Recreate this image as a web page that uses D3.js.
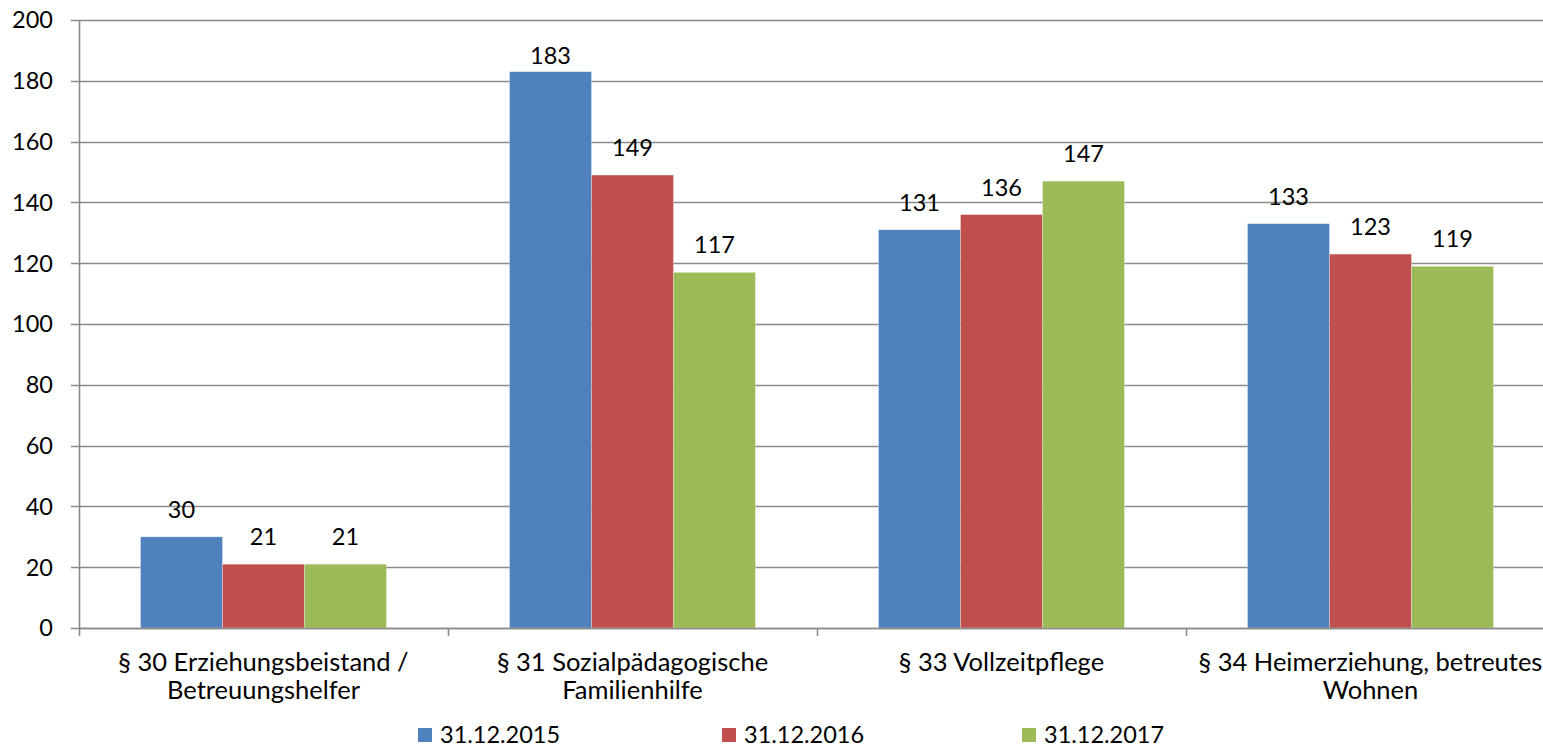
<!DOCTYPE html>
<html>
<head>
<meta charset="utf-8">
<script src="https://cdn.jsdelivr.net/npm/d3@7"></script>
<style>
  body { margin: 0; background: #fff; overflow: hidden; }
  #chart { width: 1543px; height: 748px; }
  text { font-family: Lato, "Open Sans", sans-serif; fill: #000; }
</style>
</head>
<body>
<div id="chart"></div>
<script>
// data
var categories = [
    ["§ 30 Erziehungsbeistand /", "Betreuungshelfer"],
    ["§ 31 Sozialpädagogische", "Familienhilfe"],
    ["§ 33 Vollzeitpflege"],
    ["§ 34 Heimerziehung, betreutes", "Wohnen"]
];
var seriesNames = ["31.12.2015", "31.12.2016", "31.12.2017"];
var values2015 = [30, 183, 131, 133];
var values2016 = [21, 149, 136, 123];
var values2017 = [21, 117, 147, 119];
var yTicks = [0, 20, 40, 60, 80, 100, 120, 140, 160, 180, 200];
var colors = ["#4F81BD", "#C0504D", "#9BBB59"];

var series = [values2015, values2016, values2017];

var width = 1543, height = 748;
var fontSize = 23.5;
var catFontSize = 25.5;
var svg = d3.select("#chart")
    .append("svg")
    .attr("width", width)
    .attr("height", height);

var plotLeft = 79, plotTop = 20, plotBottom = 628;
var plotRight = plotLeft + 4 * 369;

var x = d3.scaleBand()
    .domain(d3.range(categories.length))
    .range([plotLeft, plotRight])
    .paddingInner(0)
    .paddingOuter(0);

var inner = d3.scaleBand()
    .domain(d3.range(series.length))
    .range([x.bandwidth() / 6, x.bandwidth() * 5 / 6]);

var y = d3.scaleLinear()
    .domain([0, 200])
    .range([plotBottom, plotTop]);

// gridlines
svg.selectAll(".grid")
    .data(yTicks)
    .enter()
    .append("line")
    .attr("x1", plotLeft - 8)
    .attr("x2", width)
    .attr("y1", function(d) { return Math.round(y(d)) + 0.5; })
    .attr("y2", function(d) { return Math.round(y(d)) + 0.5; })
    .attr("stroke", "#8a8a8a")
    .attr("stroke-width", 1.6);

// y labels
svg.selectAll(".ylab")
    .data(yTicks)
    .enter()
    .append("text")
    .attr("x", 53)
    .attr("y", function(d) { return y(d); })
    .attr("dy", "0.36em")
    .attr("text-anchor", "end")
    .attr("font-size", fontSize)
    .text(function(d) { return d; });

// bars
var groups = svg.selectAll(".group")
    .data(categories)
    .enter()
    .append("g")
    .attr("transform", function(d, i) { return "translate(" + x(i) + ",0)"; });

groups.each(function(c, ci) {
    var g = d3.select(this);
    series.forEach(function(s, si) {
        g.append("rect")
            .attr("x", inner(si))
            .attr("y", y(s[ci]))
            .attr("width", inner.bandwidth())
            .attr("height", plotBottom - y(s[ci]))
            .attr("fill", colors[si])
            .attr("stroke", "#ffffff")
            .attr("stroke-opacity", 0.5)
            .attr("stroke-width", 0.6);
        g.append("text")
            .attr("x", inner(si) + inner.bandwidth() / 2)
            .attr("y", Math.max(64, y(s[ci]) - 19))
            .attr("text-anchor", "middle")
            .attr("font-size", fontSize)
            .text(s[ci]);
    });
});

// axes lines
svg.append("line")
    .attr("x1", plotLeft + 0.5).attr("x2", plotLeft + 0.5)
    .attr("y1", plotTop).attr("y2", plotBottom + 8)
    .attr("stroke", "#8a8a8a").attr("stroke-width", 1.6);

svg.append("line")
    .attr("x1", plotLeft).attr("x2", width)
    .attr("y1", plotBottom + 0.5).attr("y2", plotBottom + 0.5)
    .attr("stroke", "#8a8a8a").attr("stroke-width", 1.6);

svg.selectAll(".xtick")
    .data(d3.range(1, categories.length))
    .enter()
    .append("line")
    .attr("x1", function(d) { return x(d) + 0.5; })
    .attr("x2", function(d) { return x(d) + 0.5; })
    .attr("y1", plotBottom)
    .attr("y2", plotBottom + 8)
    .attr("stroke", "#8a8a8a").attr("stroke-width", 1.6);

// category labels
groups.each(function(c, ci) {
    var t = d3.select(this).append("text")
        .attr("text-anchor", "middle")
        .attr("font-size", catFontSize);
    c.forEach(function(line, li) {
        t.append("tspan")
            .attr("x", x.bandwidth() / 2)
            .attr("y", 671 + li * 28)
            .text(line);
    });
});

// legend
var legendX = [418, 722, 1022];
var legend = svg.selectAll(".legend")
    .data(seriesNames)
    .enter()
    .append("g")
    .attr("transform", function(d, i) { return "translate(" + legendX[i] + ",728)"; });

legend.append("rect")
    .attr("width", 14)
    .attr("height", 14)
    .attr("fill", function(d, i) { return colors[i]; });

legend.append("text")
    .attr("x", 22)
    .attr("y", 7)
    .attr("dy", "0.36em")
    .attr("font-size", fontSize)
    .text(function(d) { return d; });
</script>
</body>
</html>
